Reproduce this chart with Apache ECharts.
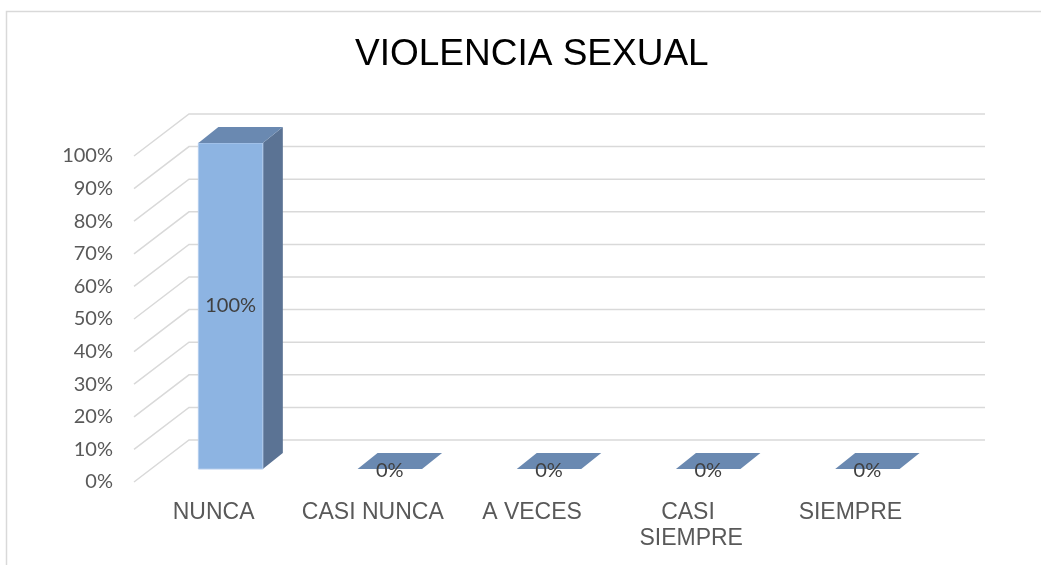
<!DOCTYPE html>
<html>
<head>
<meta charset="utf-8">
<script src="https://cdn.jsdelivr.net/npm/echarts@6/dist/echarts.min.js"></script>
<style>
  html, body { margin: 0; padding: 0; background: #fff; }
  #chart { width: 1041px; height: 565px; }
</style>
</head>
<body>
<div id="chart"></div>
<script>
const categories = ['NUNCA', 'CASI NUNCA', 'A VECES', 'CASI SIEMPRE', 'SIEMPRE']
const values = [100, 0, 0, 0, 0]
const yTicks = [0, 10, 20, 30, 40, 50, 60, 70, 80, 90, 100]

// oblique 3D offsets (pixels): full floor depth, bar start offset, bar depth
const WALL = [55, -42]
const BAR_OFF = [17, -13]
const BAR_DEPTH = [20, -16]

const chart = echarts.init(document.getElementById('chart'))

chart.setOption({
  animation: false,
  title: {
    text: 'VIOLENCIA SEXUAL',
    left: 355,
    top: 36,
    padding: 0,
    textStyle: { fontSize: 37, fontWeight: 'normal', color: '#000', fontFamily: 'Liberation Sans, Arial, sans-serif' }
  },
  graphic: [{
    type: 'rect',
    shape: { x: 6.5, y: 11.5, width: 1200, height: 700 },
    style: { fill: 'none', stroke: '#d9d9d9', lineWidth: 1.5 },
    silent: true
  }],
  grid: { left: 134, right: 111, top: 156, bottom: 83 },
  xAxis: {
    type: 'category',
    data: categories,
    axisLine: { show: false },
    axisTick: { show: false },
    axisLabel: {
      interval: 0,
      margin: 18,
      color: '#595959',
      fontSize: 23,
      lineHeight: 26,
      fontFamily: 'Liberation Sans, Arial, sans-serif',
      width: 150,
      overflow: 'break'
    }
  },
  yAxis: {
    type: 'value',
    min: 0,
    max: 100,
    interval: 10,
    axisLine: { show: false },
    axisTick: { show: false },
    splitLine: { show: false },
    axisLabel: { formatter: '{value}%', margin: 21, color: '#595959', fontSize: 20, fontFamily: 'Lato, sans-serif' }
  },
  series: [{
    // walls: diagonal floor-to-back line plus back gridline per tick
    type: 'custom',
    silent: true,
    clip: false,
    z: 1,
    data: yTicks.map(v => [0, v]),
    renderItem(params, api) {
      const cs = params.coordSys
      const y = api.coord([0, api.value(1)])[1]
      return {
        type: 'polyline',
        shape: {
          points: [
            [cs.x, y],
            [cs.x + WALL[0], y + WALL[1]],
            [cs.x + cs.width + WALL[0], y + WALL[1]]
          ]
        },
        style: { stroke: '#d9d9d9', lineWidth: 1.5, fill: 'none' }
      }
    }
  }, {
    type: 'custom',
    clip: false,
    z: 2,
    data: values.map((v, i) => [i, v]),
    renderItem(params, api) {
      const idx = api.value(0)
      const v = api.value(1)
      const base = api.coord([idx, 0])
      const top = api.coord([idx, v])
      const w = api.size([1, 0])[0] * 0.405
      const xl = base[0] - w / 2 + BAR_OFF[0]
      const xr = xl + w
      const yb = base[1] + BAR_OFF[1]
      const yt = top[1] + BAR_OFF[1]
      const [dx, dy] = BAR_DEPTH
      const children = []
      if (yb - yt > 0.5) {
        children.push({
          type: 'polygon',
          shape: { points: [[xr, yt], [xr + dx, yt + dy], [xr + dx, yb + dy], [xr, yb]] },
          style: { fill: '#5b7394' }
        })
        children.push({
          type: 'polygon',
          shape: { points: [[xl, yt], [xr, yt], [xr, yb], [xl, yb]] },
          style: { fill: '#8db4e2', stroke: '#b3cced', lineWidth: 1 }
        })
      }
      children.push({
        type: 'polygon',
        shape: { points: [[xl, yt], [xr, yt], [xr + dx, yt + dy], [xl + dx, yt + dy]] },
        style: { fill: '#6a89b1' }
      })
      children.push({
        type: 'text',
        style: {
          text: v + '%',
          x: (xl + xr) / 2,
          y: (yt + yb) / 2 + (v === 0 ? 2 : 0),
          align: 'center',
          verticalAlign: 'middle',
          fontSize: 20,
          fontFamily: 'Lato, sans-serif',
          fill: '#404040'
        }
      })
      return { type: 'group', children }
    }
  }]
})
</script>
</body>
</html>
